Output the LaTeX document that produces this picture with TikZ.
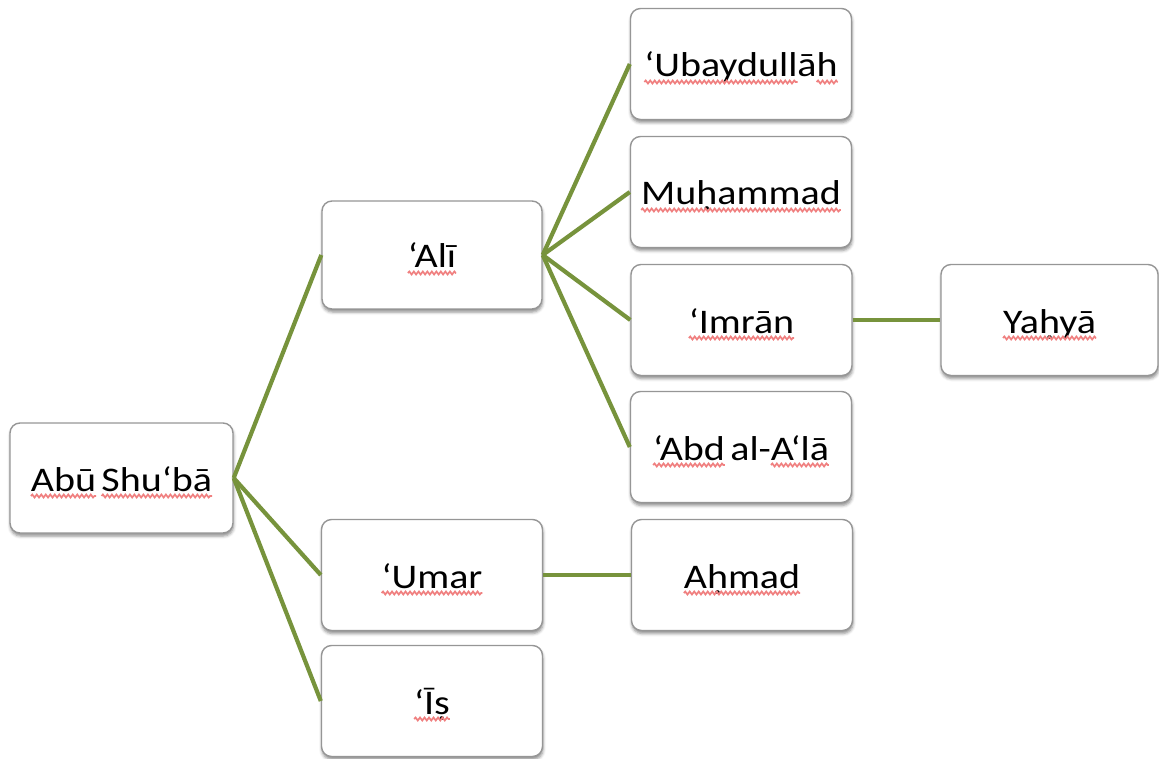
\documentclass[tikz,border=0pt]{standalone}
\usepackage{fontspec}
\setmainfont[FakeStretch=1.16,WordSpace=0.6]{Carlito}
\usetikzlibrary{shadows.blur,decorations.pathmorphing,calc}
\definecolor{linkgreen}{HTML}{77933C}
\definecolor{boxborder}{HTML}{969696}
\definecolor{wavered}{HTML}{F08080}
\newcommand\namefont{\fontsize{34.5}{40}\selectfont}
\tikzset{
  namebox/.style={draw=boxborder, line width=1.4pt, fill=white, rounded corners=10pt,
    minimum width=221pt, minimum height=111pt, inner sep=0pt,
    text height=26pt, text depth=0pt, font=\namefont,
    blur shadow={shadow xshift=0.5pt, shadow yshift=-3pt, shadow blur radius=3pt, shadow opacity=45}},
  link/.style={draw=linkgreen, line width=4.2pt},
  spellwave/.style={draw=wavered, line width=1.7pt, decorate,
    decoration={snake, amplitude=1.5pt, segment length=4.5pt}}
}
% #1 node, #2 full text, #3 text before the underlined part, #4 underlined part
\newcommand\wavesub[4]{%
  \begingroup\namefont
  \pgfmathsetlengthmacro\wvW{width("#2")}%
  \pgfmathsetlengthmacro\wvP{width("#3")}%
  \pgfmathsetlengthmacro\wvL{width("#4")}%
  \draw[spellwave] ($(#1.center)+(-0.5*\wvW+\wvP,-18pt)$) -- ++(\wvL,0pt);
  \endgroup}
\begin{document}
\begin{tikzpicture}[x=1pt,y=-1pt]
\useasboundingbox (0,0) rectangle (1159,759);
\node[namebox, minimum width=223pt, minimum height=110pt] (abu) at (121.5,478) {Abū Shu‘bā};
\node[namebox, minimum width=220pt, minimum height=108pt] (ali) at (432,255) {‘Alī};
\node[namebox] (umar) at (432,575) {‘Umar};
\node[namebox] (is) at (432,701) {‘Īṣ};
\node[namebox] (ubay) at (741,64) {‘Ubaydullāh};
\node[namebox] (muh) at (741,192) {Muḥammad};
\node[namebox] (imr) at (741.5,320) {‘Imrān};
\node[namebox] (abd) at (741,447) {‘Abd al-A‘lā};
\node[namebox] (ahm) at (742,575) {Aḥmad};
\node[namebox, minimum width=217pt] (yah) at (1049.5,320) {Yaḥyā};
\draw[link] (abu.east) -- (ali.west);
\draw[link] (abu.east) -- (umar.west);
\draw[link] (abu.east) -- (is.west);
\draw[link] (ali.east) -- (ubay.west);
\draw[link] (ali.east) -- (muh.west);
\draw[link] (ali.east) -- (imr.west);
\draw[link] (ali.east) -- (abd.west);
\draw[link] (imr.east) -- (yah.west);
\draw[link] (umar.east) -- (ahm.west);
\wavesub{abu}{Abū Shu‘bā}{}{Abū}
\wavesub{abu}{Abū Shu‘bā}{Abū }{Shu‘bā}
\wavesub{ali}{‘Alī}{}{‘Alī}
\wavesub{umar}{‘Umar}{}{‘Umar}
\wavesub{is}{‘Īṣ}{}{‘Īṣ}
\wavesub{ubay}{‘Ubaydullāh}{}{‘Ubaydull}
\wavesub{ubay}{‘Ubaydullāh}{‘Ubaydullā}{h}
\wavesub{muh}{Muḥammad}{}{Muḥammad}
\wavesub{imr}{‘Imrān}{}{‘Imrān}
\wavesub{abd}{‘Abd al-A‘lā}{}{‘Abd}
\wavesub{abd}{‘Abd al-A‘lā}{‘Abd al-}{A‘lā}
\wavesub{ahm}{Aḥmad}{}{Aḥmad}
\wavesub{yah}{Yaḥyā}{}{Yaḥyā}
\end{tikzpicture}
\end{document}
